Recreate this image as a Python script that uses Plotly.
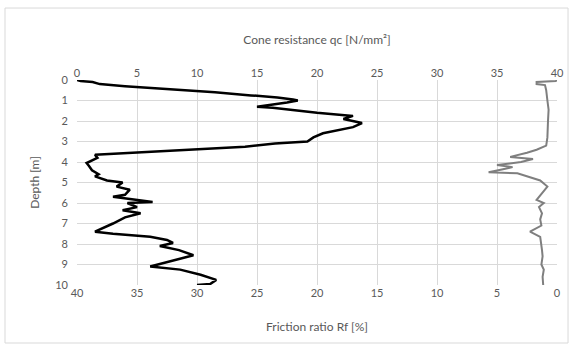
import plotly.graph_objects as go

# Cone resistance qc [N/mm²] vs depth [m]
qc_depth = [0.0, 0.05, 0.1, 0.2, 0.3, 0.45, 0.6, 0.75, 0.85, 0.95, 1.0, 1.1, 1.2, 1.3, 1.35, 1.5, 1.6,
            1.75, 1.9, 2.1, 2.3, 2.6, 2.8, 3.0, 3.1, 3.25, 3.4, 3.5, 3.6, 3.65, 3.8, 4.05, 4.2,
            4.4, 4.6, 4.7, 4.9, 5.0, 5.2, 5.35, 5.6, 5.7, 5.95, 6.0, 6.2, 6.35, 6.5, 6.7, 7.0,
            7.4, 7.5, 7.65, 7.8, 7.95, 8.1, 8.3, 8.55, 8.8, 9.1, 9.25, 9.5, 9.75, 9.95, 10.0]
qc_values = [0.0, 0.3, 1.3, 1.9, 4.0, 8.0, 11.5, 14.5, 16.7, 18.0, 18.4, 17.5, 16.0, 15.0, 16.3, 18.5, 20.0,
             23.0, 22.2, 23.75, 23.0, 20.5, 19.7, 19.2, 16.5, 14.0, 9.0, 6.0, 3.0, 1.5, 1.7, 0.8, 1.0,
             1.25, 1.8, 1.5, 2.5, 3.8, 3.3, 4.4, 4.0, 3.0, 6.3, 4.2, 5.0, 3.8, 5.3, 4.0, 3.0,
             1.5, 3.0, 6.1, 7.5, 8.0, 6.9, 8.5, 9.7, 8.0, 6.1, 8.6, 10.3, 11.6, 11.1, 10.0]

# Friction ratio Rf [%] vs depth [m]
rf_depth = [0.0, 0.05, 0.1, 0.2, 0.25, 0.5, 1.0, 1.45, 2.0, 2.8, 3.2, 3.4, 3.55, 3.75, 3.85, 4.0,
            4.15, 4.25, 4.35, 4.5, 4.55, 4.7, 4.9, 5.2, 5.5, 5.85, 6.0, 6.2, 6.5, 6.8, 7.1, 7.4,
            7.65, 8.0, 8.3, 8.6, 9.0, 9.25, 9.6, 10.0]
rf_values = [0.0, 0.1, 1.7, 1.7, 1.0, 0.9, 0.8, 0.7, 0.75, 0.8, 0.9, 1.7, 2.5, 3.9, 2.0, 3.0,
             5.0, 3.7, 4.5, 5.7, 3.3, 2.5, 1.4, 0.8, 1.2, 1.7, 1.1, 1.5, 1.25, 1.4, 1.3, 2.25,
             1.4, 1.3, 1.25, 1.2, 1.3, 1.1, 1.2, 1.15]

qc_ticks = [0, 5, 10, 15, 20, 25, 30, 35, 40]
depth_ticks = [0, 1, 2, 3, 4, 5, 6, 7, 8, 9, 10]

FONT = "Lato"
TXT = "#595959"
GRID = "#d9d9d9"

fig = go.Figure()
fig.add_trace(go.Scatter(x=qc_values, y=qc_depth, mode="lines", xaxis="x", yaxis="y",
                         line=dict(color="#000000", width=2.5), name="qc", showlegend=False))
fig.add_trace(go.Scatter(x=rf_values, y=rf_depth, mode="lines", xaxis="x2", yaxis="y",
                         line=dict(color="#7f7f7f", width=2), name="Rf", showlegend=False))

fig.update_layout(
    width=577, height=351,
    margin=dict(l=77, r=20, t=80, b=66),
    paper_bgcolor="white", plot_bgcolor="white",
    font=dict(family=FONT, size=11, color=TXT),
    xaxis=dict(side="top", range=[0, 40], tickvals=qc_ticks, showgrid=True, gridcolor=GRID,
               gridwidth=1, zeroline=False, showline=False, ticks="",
               title=dict(text="Cone resistance qc [N/mm²]", font=dict(size=12, color=TXT), standoff=18)),
    xaxis2=dict(side="bottom", overlaying="x", anchor="y", range=[40, 0], tickvals=qc_ticks,
                showgrid=False, zeroline=False, showline=False, ticks="",
                title=dict(text="Friction ratio Rf [%]", font=dict(size=12, color=TXT), standoff=24)),
    yaxis=dict(range=[10, 0], tickvals=depth_ticks, showgrid=True, gridcolor=GRID, gridwidth=1,
               zeroline=False, showline=False, ticks="", ticklabelstandoff=8,
               title=dict(text="Depth [m]", font=dict(size=12, color=TXT), standoff=13)),
    shapes=[dict(type="rect", xref="paper", yref="paper", x0=-0.150, x1=1.023, y0=-0.283, y1=1.351,
                 line=dict(color=GRID, width=1), fillcolor="rgba(0,0,0,0)", layer="below")],
)

fig.write_html("out.html")
